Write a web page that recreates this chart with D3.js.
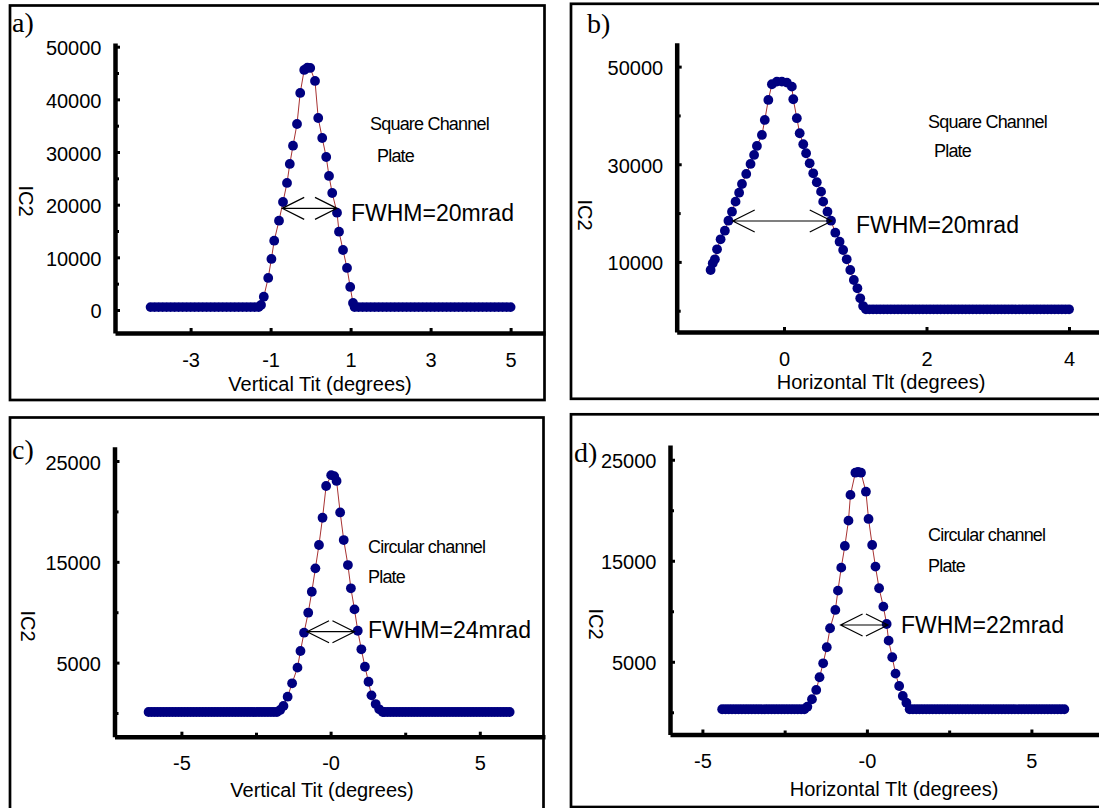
<!DOCTYPE html>
<html>
<head>
<meta charset="utf-8">
<script src="https://cdn.jsdelivr.net/npm/d3@7"></script>
<style>
  body { margin: 0; background: #fff; }
  text { font-family: 'Liberation Sans', Arial, sans-serif; fill: #000; }
</style>
</head>
<body>
<div id="chart"></div>
<script>
// ---- panel a: square channel plate, vertical tilt ----
const peakTiltA = [-1.24, -1.17, -1.06, -0.98, -0.91, -0.79, -0.69, -0.59, -0.52, -0.44, -0.34, -0.26, -0.16, -0.08, -0.01,
  0.11, 0.19, 0.29, 0.39, 0.46, 0.54, 0.66, 0.71, 0.81, 0.91, 0.99, 1.06]
const peakIc2A = [950, 2530, 6080, 9690, 13160, 16960, 20510, 24120, 27730, 31200, 35320, 41210, 45580, 46000, 45960,
  43490, 36460, 32660, 29050, 25450, 22220, 18480, 14870, 11390, 7980, 4370, 1330]
const baseLeftA = [-4.0, -3.9, -3.8, -3.7, -3.6, -3.5, -3.4, -3.3, -3.2, -3.1, -3.0, -2.9, -2.8, -2.7, -2.6, -2.5, -2.4,
  -2.3, -2.2, -2.1, -2.0, -1.9, -1.8, -1.7, -1.6, -1.5, -1.4, -1.3]
const baseRightA = [1.1, 1.2, 1.3, 1.4, 1.5, 1.6, 1.7, 1.8, 1.9, 2.0, 2.1, 2.2, 2.3, 2.4, 2.5, 2.6, 2.7, 2.8, 2.9, 3.0,
  3.1, 3.2, 3.3, 3.4, 3.5, 3.6, 3.7, 3.8, 3.9, 4.0, 4.1, 4.2, 4.3, 4.4, 4.5, 4.6, 4.7, 4.8, 4.9, 5.0]
const baseLevelA = 550
const fwhmA = [-0.71, 0.66, 19300]
const xTicksA = [-3, -1, 1, 3, 5]
const xLabelsA = ['-3', '-1', '1', '3', '5']
const yTicksA = [0, 10000, 20000, 30000, 40000, 50000]
const yMinorA = [5000, 15000, 25000, 35000, 45000]

// ---- panel b: square channel plate, horizontal tilt ----
const peakTiltB = [-1.03, -1.0, -0.97, -0.94, -0.89, -0.83, -0.78, -0.73, -0.68, -0.63, -0.59, -0.53, -0.47, -0.42, -0.38,
  -0.31, -0.27, -0.22, -0.17, -0.10, -0.03, 0.04, 0.11, 0.13, 0.18, 0.22, 0.27, 0.31, 0.36, 0.41, 0.46, 0.52, 0.55,
  0.61, 0.66, 0.72, 0.78, 0.83, 0.88, 0.93, 0.98, 1.03, 1.07, 1.11]
const peakIc2B = [8340, 9710, 10530, 12580, 14630, 16390, 18440, 20290, 22340, 24180, 25960, 28010, 30060, 31910, 33750,
  36000, 39080, 43180, 46390, 46930, 46930, 46720, 45900, 43320, 39430, 36350, 34100, 32250, 30200, 28150, 26310, 24390, 22340,
  20290, 18440, 15980, 14140, 12440, 10530, 8340, 6290, 4590, 2540, 960]
const baseLeftB = []
const baseRightB = [1.15, 1.2, 1.25, 1.3, 1.35, 1.4, 1.45, 1.5, 1.55, 1.6, 1.65, 1.7, 1.75, 1.8, 1.85, 1.9, 1.95, 2.0,
  2.05, 2.1, 2.15, 2.2, 2.25, 2.3, 2.35, 2.4, 2.45, 2.5, 2.55, 2.6, 2.65, 2.7, 2.75, 2.8, 2.85, 2.9, 2.95, 3.0, 3.05,
  3.1, 3.15, 3.2, 3.25, 3.3, 3.35, 3.4, 3.45, 3.5, 3.55, 3.6, 3.65, 3.7, 3.75, 3.8, 3.85, 3.9, 3.95, 4.0]
const baseLevelB = 290
const fwhmB = [-0.72, 0.67, 18380]
const xTicksB = [0, 2, 4]
const xLabelsB = ['0', '2', '4']
const yTicksB = [10000, 30000, 50000]
const yMinorB = [0, 20000, 40000]

// ---- panel c: circular channel plate, vertical tilt ----
const peakTiltC = [-1.69, -1.58, -1.44, -1.29, -1.11, -1.01, -0.89, -0.75, -0.63, -0.51, -0.39, -0.27, -0.15, 0.02, 0.12,
  0.2, 0.32, 0.44, 0.58, 0.68, 0.8, 0.91, 1.03, 1.15, 1.27, 1.37, 1.51, 1.63]
const peakIc2C = [300, 700, 1620, 2950, 4500, 6150, 7970, 9950, 12030, 14350, 16670, 19370, 22520, 23600, 23500,
  23020, 19900, 17160, 14680, 12370, 10280, 8160, 6320, 4590, 3100, 1750, 890, 370]
const baseLeftC = [-6.1, -6.0, -5.9, -5.8, -5.7, -5.6, -5.5, -5.4, -5.3, -5.2, -5.1, -5.0, -4.9, -4.8, -4.7, -4.6, -4.5,
  -4.4, -4.3, -4.2, -4.1, -4.0, -3.9, -3.8, -3.7, -3.6, -3.5, -3.4, -3.3, -3.2, -3.1, -3.0, -2.9, -2.8, -2.7, -2.6, -2.5,
  -2.4, -2.3, -2.2, -2.1, -2.0, -1.9, -1.8]
const baseRightC = [1.75, 1.8, 1.9, 2.0, 2.1, 2.2, 2.3, 2.4, 2.5, 2.6, 2.7, 2.8, 2.9, 3.0, 3.1, 3.2, 3.3, 3.4, 3.5, 3.6,
  3.7, 3.8, 3.9, 4.0, 4.1, 4.2, 4.3, 4.4, 4.5, 4.6, 4.7, 4.8, 4.9, 5.0, 5.1, 5.2, 5.3, 5.4, 5.5, 5.6, 5.7, 5.8, 5.9, 6.0]
const baseLevelC = 100
const fwhmC = [-0.79, 0.80, 8065]
const xTicksC = [-5, 0, 5]
const xLabelsC = ['-5', '-0', '5']
const xMinorC = [-2.5, 2.5]
const yTicksC = [5000, 15000, 25000]
const yMinorC = [0, 10000, 20000]

// ---- panel d: circular channel plate, horizontal tilt ----
const peakTiltD = [-1.81, -1.67, -1.54, -1.44, -1.33, -1.22, -1.12, -0.96, -0.88, -0.78, -0.67, -0.56, -0.5, -0.35,
  -0.27, -0.18, -0.03, 0.05, 0.16, 0.26, 0.37, 0.5, 0.6, 0.66, 0.77, 0.87, 0.98, 1.09, 1.2]
const peakIc2D = [550, 1290, 2210, 3470, 4850, 6440, 8320, 10130, 12040, 14320, 16470, 18970, 21520, 23720,
  23800, 23720, 21840, 19140, 16560, 14420, 12280, 10460, 8740, 7090, 5450, 3830, 2600, 1610, 950]
const baseLeftD = [-4.4, -4.3, -4.2, -4.1, -4.0, -3.9, -3.8, -3.7, -3.6, -3.5, -3.4, -3.3, -3.2, -3.1, -3.0, -2.9, -2.8,
  -2.7, -2.6, -2.5, -2.4, -2.3, -2.2, -2.1, -2.0, -1.9]
const baseRightD = [1.3, 1.4, 1.5, 1.6, 1.7, 1.8, 1.9, 2.0, 2.1, 2.2, 2.3, 2.4, 2.5, 2.6, 2.7, 2.8, 2.9, 3.0, 3.1, 3.2,
  3.3, 3.4, 3.5, 3.6, 3.7, 3.8, 3.9, 4.0, 4.1, 4.2, 4.3, 4.4, 4.5, 4.6, 4.7, 4.8, 4.9, 5.0, 5.1, 5.2, 5.3, 5.4, 5.5, 5.6,
  5.7, 5.8, 5.9, 6.0]
const baseLevelD = 300
const fwhmD = [-0.8, 0.64, 8640]
const xTicksD = [-5, 0, 5]
const xLabelsD = ['-5', '-0', '5']
const xMinorD = [-2.5, 2.5]
const yTicksD = [5000, 15000, 25000]
const yMinorD = [0, 10000, 20000]

const dotColor = '#000080'
const lineColor = '#a83232'

const svg = d3
  .select('#chart')
  .append('svg')
  .attr('width', 1099)
  .attr('height', 808)

function points (baseLeft, tilt, ic2, baseRight, level) {
  return baseLeft.map(t => ({ t: t, v: level }))
    .concat(tilt.map((t, i) => ({ t: t, v: ic2[i] })))
    .concat(baseRight.map(t => ({ t: t, v: level })))
}

const panels = [
  {
    label: 'a)', labelPos: [12, 32],
    frame: [10, 5.5, 534.5, 394.5],
    left: 115, right: 545, top: 43, bottom: 333,
    xDomain: [-4.89, 5.86], yDomain: [-4370, 50700],
    data: points(baseLeftA, peakTiltA, peakIc2A, baseRightA, baseLevelA),
    fwhm: fwhmA, fwhmText: 'FWHM=20mrad', fwhmPos: [351, 221],
    xTicks: xTicksA, xLabels: xLabelsA, xMinor: [],
    yTicks: yTicksA, yMinor: yMinorA,
    title: 'Vertical Tit (degrees)', titlePos: [320, 391],
    ylab: [26, 201],
    note: ['Square Channel', 'Plate'], notePos: [[370, 130], [377, 162]]
  },
  {
    label: 'b)', labelPos: [587, 33],
    frame: [571, 3.8, 530, 395],
    left: 676.7, right: 1100, top: 42.7, bottom: 332,
    xDomain: [-1.506, 4.435], yDomain: [-4360, 54900],
    data: points(baseLeftB, peakTiltB, peakIc2B, baseRightB, baseLevelB),
    fwhm: fwhmB, fwhmText: 'FWHM=20mrad', fwhmPos: [856, 233],
    xTicks: xTicksB, xLabels: xLabelsB, xMinor: [],
    yTicks: yTicksB, yMinor: yMinorB,
    title: 'Horizontal Tlt (degrees)', titlePos: [881, 389],
    ylab: [585, 215],
    note: ['Square Channel', 'Plate'], notePos: [[928, 128], [934, 157]]
  },
  {
    label: 'c)', labelPos: [12, 459],
    frame: [10, 417.5, 533.5, 395],
    left: 114.5, right: 545, top: 446.7, bottom: 736.7,
    xDomain: [-7.242, 7.185], yDomain: [-2350, 26420],
    data: points(baseLeftC, peakTiltC, peakIc2C, baseRightC, baseLevelC),
    fwhm: fwhmC, fwhmText: 'FWHM=24mrad', fwhmPos: [368, 638],
    xTicks: xTicksC, xLabels: xLabelsC, xMinor: xMinorC,
    yTicks: yTicksC, yMinor: yMinorC,
    title: 'Vertical Tit (degrees)', titlePos: [322, 797],
    ylab: [28, 626],
    note: ['Circular channel', 'Plate'], notePos: [[368, 553], [368, 583]]
  },
  {
    label: 'd)', labelPos: [574, 462],
    frame: [571, 414.3, 530, 392.7],
    left: 670, right: 1100, top: 445, bottom: 734.5,
    xDomain: [-5.985, 7.085], yDomain: [-2200, 26460],
    data: points(baseLeftD, peakTiltD, peakIc2D, baseRightD, baseLevelD),
    fwhm: fwhmD, fwhmText: 'FWHM=22mrad', fwhmPos: [901, 633],
    xTicks: xTicksD, xLabels: xLabelsD, xMinor: xMinorD,
    yTicks: yTicksD, yMinor: yMinorD,
    title: 'Horizontal Tlt (degrees)', titlePos: [894, 796],
    ylab: [596, 624],
    note: ['Circular channel', 'Plate'], notePos: [[928, 541], [928, 572]]
  }
]

function drawPanel (p) {
  const g = svg.append('g')

  // frame around each panel
  g.append('rect')
    .attr('x', p.frame[0])
    .attr('y', p.frame[1])
    .attr('width', p.frame[2])
    .attr('height', p.frame[3])
    .attr('fill', 'none')
    .attr('stroke', '#000')
    .attr('stroke-width', 2.7)

  const x = d3.scaleLinear().domain(p.xDomain).range([p.left, p.right])
  const y = d3.scaleLinear().domain(p.yDomain).range([p.bottom, p.top])

  // axes
  const xAxis = d3.axisBottom(x)
    .tickValues(p.xTicks)
    .tickFormat((d, i) => p.xLabels[i])
    .tickSizeInner(-5)
    .tickSizeOuter(0)
    .tickPadding(19.5)
  const xg = g.append('g')
    .attr('transform', 'translate(0,' + p.bottom + ')')
    .call(xAxis)

  const yAxis = d3.axisLeft(y)
    .tickValues(p.yTicks)
    .tickFormat(d3.format('d'))
    .tickSizeInner(-5)
    .tickSizeOuter(0)
    .tickPadding(13.5)
  const yg = g.append('g')
    .attr('transform', 'translate(' + p.left + ',0)')
    .call(yAxis)

  const yMinorAxis = d3.axisLeft(y).tickValues(p.yMinor).tickFormat('').tickSizeInner(-4).tickSizeOuter(0)
  const ymg = g.append('g').attr('transform', 'translate(' + p.left + ',0)').call(yMinorAxis)
  ymg.select('.domain').remove()

  const xMinorAxis = d3.axisBottom(x).tickValues(p.xMinor).tickFormat('').tickSizeInner(-4).tickSizeOuter(0)
  const xmg = g.append('g').attr('transform', 'translate(0,' + p.bottom + ')').call(xMinorAxis)
  xmg.select('.domain').remove()

  g.selectAll('.domain').style('stroke', '#000').style('stroke-width', '4.5px')
  g.selectAll('.tick line').style('stroke', '#000').style('stroke-width', '3px')
  xg.selectAll('.tick text').attr('font-size', 20).attr('font-family', "'Liberation Sans', Arial, sans-serif")
  yg.selectAll('.tick text').attr('font-size', 20).attr('dy', '0.4em').attr('font-family', "'Liberation Sans', Arial, sans-serif")

  // thin connecting line, then the dots
  const line = d3.line()
    .x(d => x(d.t))
    .y(d => y(d.v))

  g.append('path')
    .datum(p.data)
    .attr('d', line)
    .attr('fill', 'none')
    .attr('stroke', lineColor)
    .attr('stroke-width', 1)

  g.append('g')
    .selectAll('circle')
    .data(p.data)
    .enter()
    .append('circle')
    .attr('cx', d => x(d.t))
    .attr('cy', d => y(d.v))
    .attr('r', 4.9)
    .attr('fill', dotColor)

  // FWHM double arrow
  const x1 = x(p.fwhm[0])
  const x2 = x(p.fwhm[1])
  const yv = y(p.fwhm[2])
  g.append('path')
    .attr('d', 'M' + x1 + ',' + yv + 'H' + x2 +
      'M' + (x1 + 22) + ',' + (yv - 11) + 'L' + x1 + ',' + yv + 'L' + (x1 + 22) + ',' + (yv + 11) +
      'M' + (x2 - 22) + ',' + (yv - 11) + 'L' + x2 + ',' + yv + 'L' + (x2 - 22) + ',' + (yv + 11))
    .attr('fill', 'none')
    .attr('stroke', '#000')
    .attr('stroke-width', 1.2)

  g.append('text')
    .attr('x', p.fwhmPos[0])
    .attr('y', p.fwhmPos[1])
    .attr('font-size', 23)
    .text(p.fwhmText)

  // notes
  p.note.forEach((s, i) => {
    g.append('text')
      .attr('x', p.notePos[i][0])
      .attr('y', p.notePos[i][1])
      .attr('font-size', 18)
      .attr('letter-spacing', -0.8)
      .text(s)
  })

  // axis titles
  g.append('text')
    .attr('x', p.titlePos[0])
    .attr('y', p.titlePos[1])
    .attr('text-anchor', 'middle')
    .attr('font-size', 20)
    .text(p.title)

  g.append('text')
    .attr('transform', 'translate(' + p.ylab[0] + ',' + p.ylab[1] + ') rotate(90)')
    .attr('text-anchor', 'middle')
    .attr('dy', '0.35em')
    .attr('font-size', 20)
    .text('IC2')

  // panel letter
  g.append('text')
    .attr('x', p.labelPos[0])
    .attr('y', p.labelPos[1])
    .attr('font-size', 28)
    .style('font-family', "'Liberation Serif', 'Times New Roman', serif")
    .text(p.label)
}

panels.forEach(drawPanel)
</script>
</body>
</html>
